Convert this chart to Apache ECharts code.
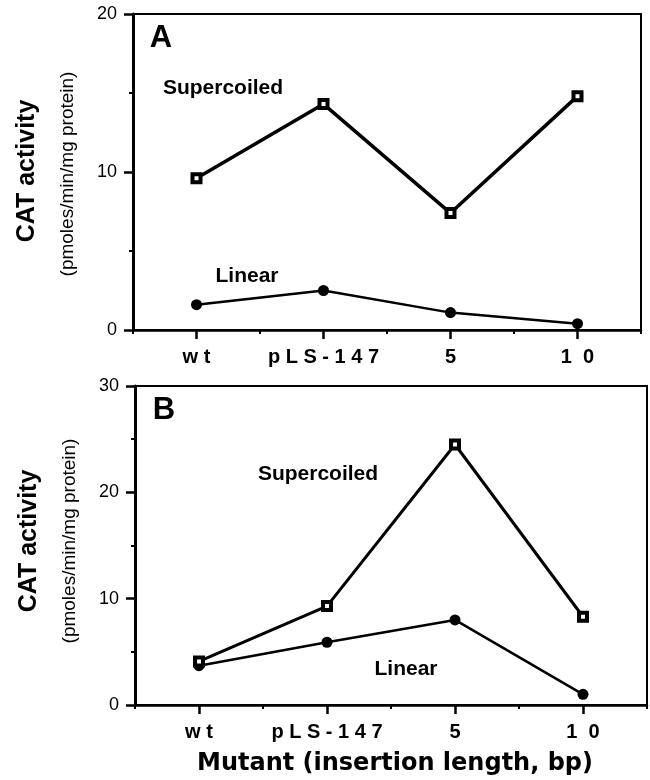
<!DOCTYPE html>
<html>
<head>
<meta charset="utf-8">
<script src="https://cdn.jsdelivr.net/npm/echarts@6/dist/echarts.min.js"></script>
<style>
  html, body { margin: 0; padding: 0; background: #fff; }
  #chart { width: 650px; height: 780px; }
</style>
</head>
<body>
<div id="chart"></div>
<script>
// categories (letter-spaced like the printed figure)
const categories = ['w t', 'p L S - 1 4 7', '5', '1  0'];

// panel A values
const aSupercoiled = [9.6, 14.3, 7.4, 14.8];
const aLinear = [1.6, 2.5, 1.1, 0.4];

// panel B values
const bSupercoiled = [4.1, 9.3, 24.5, 8.3];
const bLinear = [3.7, 5.9, 8.0, 1.0];

const aMax = 20;
const bMax = 30;
const yStep = 10;

const sans = '"Liberation Sans", Arial, sans-serif';

function valueAxis(gridIndex, max) {
  return {
    type: 'value', gridIndex: gridIndex, min: 0, max: max, interval: yStep,
    axisLine: { show: true, lineStyle: { color: '#000', width: 3 } },
    axisTick: { show: true, length: 9, lineStyle: { color: '#000', width: 2.5 } },
    minorTick: { show: true, splitNumber: 2, length: 4, lineStyle: { color: '#000', width: 2 } },
    splitLine: { show: false },
    axisLabel: { color: '#000', fontFamily: sans, fontSize: 18, margin: 16 }
  };
}

// main category axis: short ticks between categories, labels centred
function catAxis(gridIndex) {
  return {
    type: 'category', gridIndex: gridIndex, data: categories, position: 'bottom',
    axisLine: { onZero: false, lineStyle: { color: '#000', width: 2.5 } },
    axisTick: { show: true, interval: 0, length: 4, lineStyle: { color: '#000', width: 2 } },
    axisLabel: { interval: 0, color: '#000', fontFamily: sans, fontWeight: 'bold', fontSize: 20, margin: 17 }
  };
}

// second category axis only for the longer ticks under each category
function centerTickAxis(gridIndex) {
  return {
    type: 'category', gridIndex: gridIndex, data: categories, position: 'bottom', offset: 0,
    axisLine: { show: false, onZero: false },
    axisTick: { show: true, alignWithLabel: true, interval: 0, length: 9, lineStyle: { color: '#000', width: 2.5 } },
    axisLabel: { show: false }
  };
}

function superSeries(data, xi, yi, w) {
  return {
    type: 'line', data: data, xAxisIndex: xi, yAxisIndex: yi,
    symbol: 'rect', symbolSize: 8, z: 4,
    lineStyle: { color: '#000', width: w },
    itemStyle: { color: '#fff', borderColor: '#000', borderWidth: 4 }
  };
}

function linearSeries(data, xi, yi, w) {
  return {
    type: 'line', data: data, xAxisIndex: xi, yAxisIndex: yi,
    symbol: 'circle', symbolSize: 11, z: 3,
    lineStyle: { color: '#000', width: w },
    itemStyle: { color: '#000' }
  };
}

function label(text, x, y, size) {
  return {
    type: 'text', x: x, y: y, z: 10,
    style: {
      text: text, fill: '#000', align: 'center', verticalAlign: 'middle',
      font: 'bold ' + size + 'px ' + sans
    }
  };
}

function yTitle(text, x, y, font) {
  return {
    type: 'text', x: x, y: y, rotation: Math.PI / 2, z: 10,
    style: { text: text, fill: '#000', align: 'center', verticalAlign: 'middle', font: font }
  };
}

const chart = echarts.init(document.getElementById('chart'));

chart.setOption({
  animation: false,
  backgroundColor: '#fff',
  grid: [
    { left: 133, top: 14, width: 508, height: 316, show: true, borderColor: '#000', borderWidth: 2 },
    { left: 135, top: 386, width: 512, height: 319, show: true, borderColor: '#000', borderWidth: 2 }
  ],
  xAxis: [catAxis(0), catAxis(1), centerTickAxis(0), centerTickAxis(1)],
  yAxis: [valueAxis(0, aMax), valueAxis(1, bMax)],
  series: [
    superSeries(aSupercoiled, 0, 0, 3.5),
    linearSeries(aLinear, 0, 0, 2.5),
    superSeries(bSupercoiled, 1, 1, 3),
    linearSeries(bLinear, 1, 1, 2.5)
  ],
  graphic: [
    label('A', 161, 38, 31),
    label('Supercoiled', 223, 88, 21),
    label('Linear', 247, 276, 21),
    label('B', 164, 410, 31),
    label('Supercoiled', 318, 474, 21),
    label('Linear', 406, 669, 21),
    {
      type: 'text', x: 395, y: 764, z: 10,
      style: { text: 'Mutant (insertion length, bp)', fill: '#000', align: 'center', verticalAlign: 'middle',
               font: 'bold 24px "DejaVu Sans", sans-serif' }
    },
    yTitle('CAT activity', 27, 171, 'bold 25px ' + sans),
    yTitle('(pmoles/min/mg protein)', 68, 174, '19px ' + sans),
    yTitle('CAT activity', 29, 541, 'bold 25px ' + sans),
    yTitle('(pmoles/min/mg protein)', 70, 541, '19px ' + sans)
  ]
});
</script>
</body>
</html>
